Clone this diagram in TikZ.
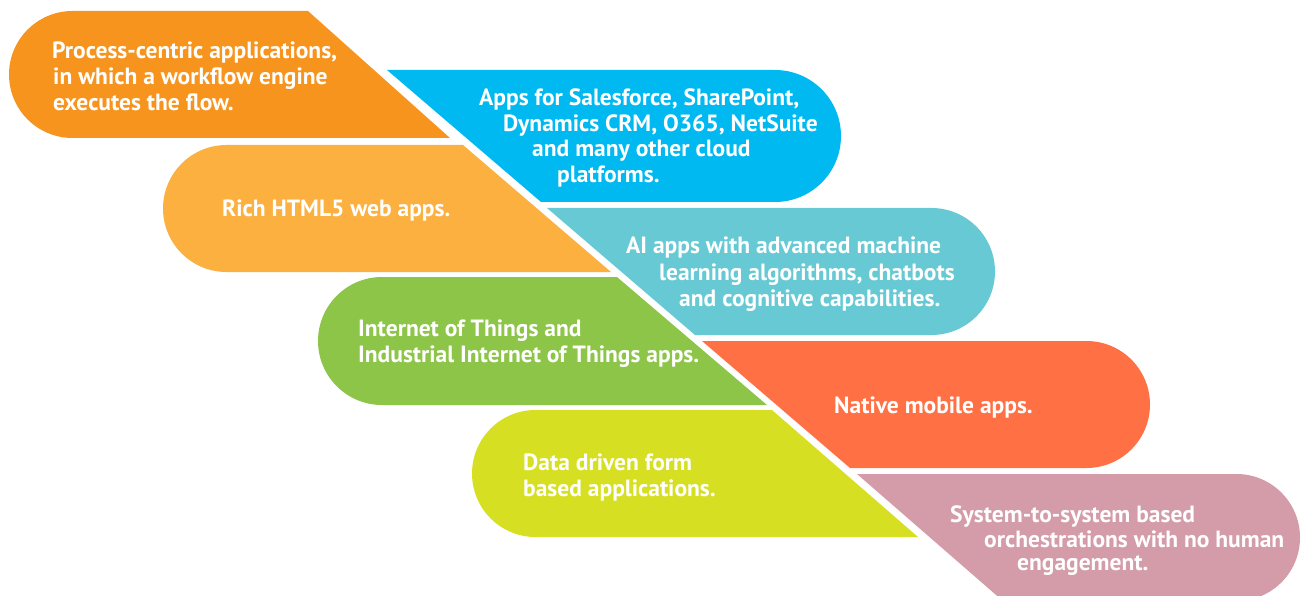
\documentclass[tikz,border=0pt]{standalone}
\usepackage{fontspec}
\setmainfont{PT Sans}
\definecolor{cA}{HTML}{F7941D}
\definecolor{cB}{HTML}{00B9F0}
\definecolor{cC}{HTML}{FBB040}
\definecolor{cD}{HTML}{67C9D4}
\definecolor{cE}{HTML}{8DC548}
\definecolor{cF}{HTML}{FF7145}
\definecolor{cG}{HTML}{D7DF23}
\definecolor{cH}{HTML}{D49CA8}
% left pill: color, X(left), T(top), H, TR(top-right x), BR(bottom-right x)
\newcommand{\lpill}[6]{%
  \fill[#1] ({#2+#4/2},{#3}) -- ({#5},{#3}) -- ({#6},{#3+#4}) -- ({#2+#4/2},{#3+#4})
    .. controls ({#2+#4/2-0.5523*#4/2},{#3+#4}) and ({#2},{#3+#4/2+0.5523*#4/2}) .. ({#2},{#3+#4/2})
    .. controls ({#2},{#3+#4/2-0.5523*#4/2}) and ({#2+#4/2-0.5523*#4/2},{#3}) .. ({#2+#4/2},{#3}) -- cycle;}
% right pill: color, TL(top-left x), BL(bottom-left x), T(top), H, R(right x)
\newcommand{\rpill}[6]{%
  \fill[#1] ({#2},{#4}) -- ({#6-#5/2},{#4})
    .. controls ({#6-#5/2+0.5523*#5/2},{#4}) and ({#6},{#4+#5/2-0.5523*#5/2}) .. ({#6},{#4+#5/2})
    .. controls ({#6},{#4+#5/2+0.5523*#5/2}) and ({#6-#5/2+0.5523*#5/2},{#4+#5}) .. ({#6-#5/2},{#4+#5})
    -- ({#3},{#4+#5}) -- cycle;}
\tikzset{txt/.style={text=white, inner sep=0pt, anchor=base west, font=\fontsize{23.5}{28}\selectfont\bfseries}}
\begin{document}
\begin{tikzpicture}[x=1pt,y=-1pt]
\useasboundingbox (0,0) rectangle (1301,596);
\begin{scope}
\clip (0,0) rectangle (1301,596);
\lpill{cA}{9}{11}{127}{308}{450}
\rpill{cB}{387}{541}{70}{132}{841}
\lpill{cC}{163}{145}{127}{463}{611}
\rpill{cD}{547}{695}{208}{127}{995}
\lpill{cE}{318}{277}{128}{617}{767}
\rpill{cF}{702}{850}{341}{127}{1150}
\lpill{cG}{472}{410}{127}{772}{918}
\rpill{cH}{857}{1003}{474}{127}{1300}
\end{scope}
\node[txt] (a1) at (52,59) {Process-centric applications,};
\node[txt] (a2) at (53,85) {in which a workflow engine};
\node[txt] (a3) at (53,111) {executes the flow.};
\node[txt] (b1) at (479,106) {Apps for Salesforce, SharePoint,};
\node[txt] (b2) at (503,132) {Dynamics CRM, O365, NetSuite};
\node[txt] (b3) at (532,157) {and many other cloud};
\node[txt] (b4) at (557,183) {platforms.};
\node[txt] (c1) at (222,217) {Rich HTML5 web apps.};
\node[txt] (d1) at (626,254) {AI apps with advanced machine};
\node[txt] (d2) at (659,280) {learning algorithms, chatbots};
\node[txt] (d3) at (679,306) {and cognitive capabilities.};
\node[txt] (e1) at (358,336) {Internet of Things and};
\node[txt] (e2) at (358,362) {Industrial Internet of Things apps.};
\node[txt] (f1) at (834,413) {Native mobile apps.};
\node[txt] (g1) at (523,470) {Data driven form};
\node[txt] (g2) at (523,496) {based applications.};
\node[txt] (h1) at (950,522) {System-to-system based};
\node[txt] (h2) at (984,547) {orchestrations with no human};
\node[txt] (h3) at (1017,570) {engagement.};
\end{tikzpicture}
\end{document}
